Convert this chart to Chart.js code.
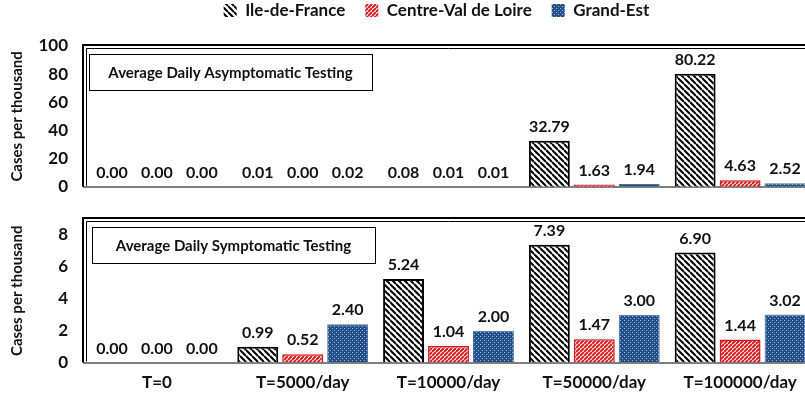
<!DOCTYPE html>
<html>
<head>
<meta charset="utf-8">
<script src="https://cdn.jsdelivr.net/npm/chart.js@4.4.0/dist/chart.umd.min.js"></script>
<style>
  html, body { margin: 0; padding: 0; background: #fff; overflow: hidden; }
  #wrap { position: relative; width: 805px; height: 403px; overflow: hidden; }
  canvas { position: absolute; left: 0; }
  #topChart { top: 0; }
  #bottomChart { top: 200px; }
</style>
</head>
<body>
<div id="wrap">
  <canvas id="topChart" width="890" height="197"></canvas>
  <canvas id="bottomChart" width="890" height="206"></canvas>
</div>
<script>
const categories = ['T=0', 'T=5000/day', 'T=10000/day', 'T=50000/day', 'T=100000/day'];
const regions = ['Ile-de-France', 'Centre-Val de Loire', 'Grand-Est'];

const asymIdf = [0.00, 0.01, 0.08, 32.79, 80.22];
const asymCvl = [0.00, 0.00, 0.01, 1.63, 4.63];
const asymGe  = [0.00, 0.02, 0.01, 1.94, 2.52];

const symIdf = [0.00, 0.99, 5.24, 7.39, 6.90];
const symCvl = [0.00, 0.52, 1.04, 1.47, 1.44];
const symGe  = [0.00, 2.40, 2.00, 3.00, 3.02];

const asymTicks = [0, 20, 40, 60, 80, 100];
const symTicks = [0, 2, 4, 6, 8];

const FONT = 'Lato';

function makePattern(size, draw) {
  const c = document.createElement('canvas');
  c.width = size;
  c.height = size;
  const g = c.getContext('2d');
  draw(g, size);
  return g.createPattern(c, 'repeat');
}

// black "\\\" hatch on white
const idfFill = makePattern(6, (g, s) => {
  g.fillStyle = '#fff';
  g.fillRect(0, 0, s, s);
  g.strokeStyle = '#000';
  g.lineWidth = 2;
  g.beginPath();
  for (let k = -1; k <= 1; k++) {
    g.moveTo(0, k * s);
    g.lineTo(s, k * s + s);
  }
  g.stroke();
});

// dense red "///" hatch
const cvlFill = makePattern(4, (g, s) => {
  g.fillStyle = '#fff';
  g.fillRect(0, 0, s, s);
  g.strokeStyle = '#dc1e22';
  g.lineWidth = 2;
  g.beginPath();
  for (let k = 0; k <= 2; k++) {
    g.moveTo(0, k * s);
    g.lineTo(s, k * s - s);
  }
  g.stroke();
});

// blue with small light dots
const geFill = makePattern(4, (g, s) => {
  g.fillStyle = '#21508a';
  g.fillRect(0, 0, s, s);
  g.fillStyle = '#9fb4d0';
  g.fillRect(0, 0, 1, 1);
  g.fillRect(2, 2, 1, 1);
});

function datasets(a, b, c) {
  const zeroless = (w) => (ctx) => (ctx.raw === 0 ? 0 : w);
  const common = { categoryPercentage: 0.925, barPercentage: 0.91 };
  return [
    { ...common, label: regions[0], data: a, backgroundColor: idfFill, borderColor: '#000', borderWidth: zeroless(2) },
    { ...common, label: regions[1], data: b, backgroundColor: cvlFill, borderColor: '#d9141b', borderWidth: zeroless(1.5) },
    { ...common, label: regions[2], data: c, backgroundColor: geFill, borderColor: '#4f719c', borderWidth: zeroless(1) }
  ];
}

// legend: wide item spacing, drawn near the top with a fixed height
const legendFix = {
  id: 'legendFix',
  beforeInit(chart) {
    if (!chart.legend) return;
    const fit = chart.legend.fit;
    chart.legend.fit = function () {
      fit.call(this);
      this.height = 46;
    };
  },
  afterLayout(chart) {
    if (!chart.legend) return;
    chart.legend.top = -18;
    chart.legend.left += 30;
    chart.legend.right += 30;
  }
};

const decorPlugin = {
  id: 'decor',
  afterDatasetsDraw(chart, args, opts) {
    const ctx = chart.ctx;
    const a = chart.chartArea;
    ctx.save();

    // value labels above bars
    ctx.font = 'bold 16px ' + FONT;
    ctx.fillStyle = '#111';
    ctx.textAlign = 'center';
    ctx.textBaseline = 'middle';
    chart.data.datasets.forEach((ds, i) => {
      chart.getDatasetMeta(i).data.forEach((bar, j) => {
        ctx.fillText(ds.data[j].toFixed(2), bar.x, bar.y - 14);
      });
    });

    // double-line plot frame
    ctx.strokeStyle = '#000';
    ctx.lineWidth = 2;
    ctx.beginPath();
    ctx.moveTo(a.left - 1, a.bottom);
    ctx.lineTo(a.left - 1, a.top - 1);
    ctx.lineTo(a.right + 1, a.top - 1);
    ctx.lineTo(a.right + 1, a.bottom);
    ctx.stroke();
    ctx.lineWidth = 1;
    ctx.beginPath();
    ctx.moveTo(a.left + 2.5, a.bottom - 1);
    ctx.lineTo(a.left + 2.5, a.top + 2.5);
    ctx.lineTo(a.right - 2.5, a.top + 2.5);
    ctx.lineTo(a.right - 2.5, a.bottom - 1);
    ctx.stroke();

    // inner title box
    const bx = a.left + opts.dx, by = a.top + 8, bw = 283, bh = 36;
    ctx.fillStyle = '#fff';
    ctx.fillRect(bx, by, bw, bh);
    ctx.strokeStyle = '#000';
    ctx.lineWidth = 1;
    ctx.strokeRect(bx + 0.5, by + 0.5, bw, bh);
    ctx.fillStyle = '#111';
    ctx.font = 'bold 15px ' + FONT;
    ctx.fillText(opts.text, bx + bw / 2, by + bh / 2 + 1);
    ctx.restore();
  }
};

function yScale(max, ticks) {
  return {
    min: 0,
    max: max,
    afterBuildTicks: (s) => { s.ticks = ticks.map(v => ({ value: v })); },
    afterFit: (s) => { s.width = 84; },
    grid: { display: false, drawTicks: true, tickLength: 16, tickColor: 'rgba(0,0,0,0)' },
    border: { display: false },
    ticks: { padding: 0, color: '#111', font: { family: FONT, size: 17, weight: 'bold' } },
    title: {
      display: true,
      text: 'Cases per thousand',
      color: '#111',
      padding: { top: 8, bottom: 0 },
      font: { family: FONT, size: 15, weight: 'bold' }
    }
  };
}

function xScale(showLabels) {
  return {
    grid: { display: false, drawTicks: false },
    border: { display: true, color: '#7f7f7f', width: 2 },
    ticks: {
      display: showLabels,
      padding: 10,
      color: '#111',
      font: { family: FONT, size: 17, weight: 'bold' }
    }
  };
}

new Chart(document.getElementById('topChart'), {
  type: 'bar',
  data: { labels: categories, datasets: datasets(asymIdf, asymCvl, asymGe) },
  plugins: [legendFix, decorPlugin],
  options: {
    responsive: false,
    animation: false,
    layout: { padding: { top: 0, right: 77, bottom: 0, left: 0 } },
    scales: { x: xScale(false), y: yScale(100, asymTicks) },
    plugins: {
      legend: {
        position: 'top',
        labels: {
          boxWidth: 13,
          boxHeight: 13,
          padding: 20,
          color: '#111',
          font: { family: FONT, size: 17, weight: 'bold' }
        }
      },
      tooltip: { enabled: false },
      decor: { text: 'Average Daily Asymptomatic Testing', dx: 5 }
    }
  }
});

new Chart(document.getElementById('bottomChart'), {
  type: 'bar',
  data: { labels: categories, datasets: datasets(symIdf, symCvl, symGe) },
  plugins: [decorPlugin],
  options: {
    responsive: false,
    animation: false,
    layout: { padding: { top: 19, right: 77, bottom: 3, left: 0 } },
    scales: { x: xScale(true), y: yScale(9, symTicks) },
    plugins: {
      legend: { display: false },
      tooltip: { enabled: false },
      decor: { text: 'Average Daily Symptomatic Testing', dx: 8 }
    }
  }
});
</script>
</body>
</html>
